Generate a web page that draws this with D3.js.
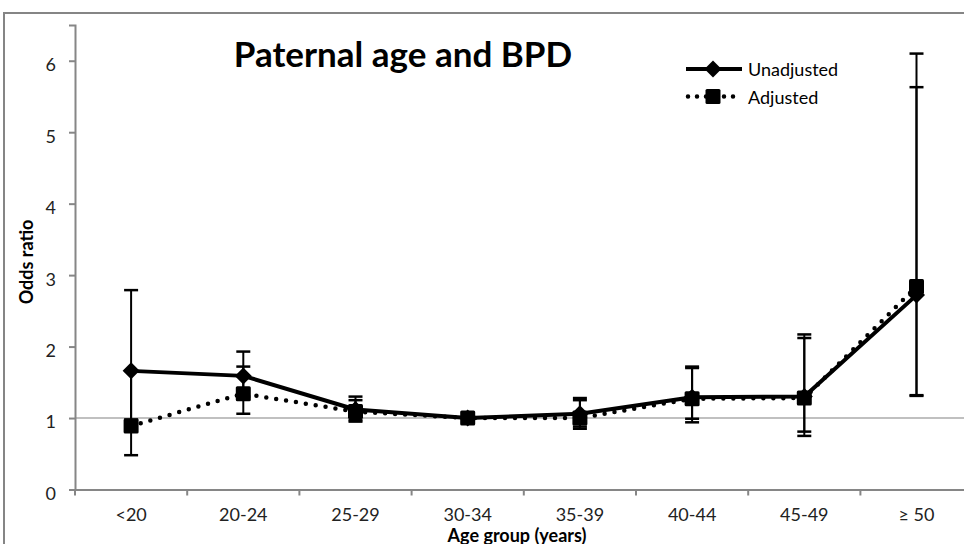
<!DOCTYPE html>
<html>
<head>
<meta charset="utf-8">
<script src="https://cdn.jsdelivr.net/npm/d3@7"></script>
<style>
  body { margin: 0; background: #fff; }
  svg { display: block; font-family: Lato, "Open Sans", sans-serif; }
</style>
</head>
<body>
<svg id="chart"></svg>
<script>
const categories = ["<20", "20-24", "25-29", "30-34", "35-39", "40-44", "45-49", "\u2265 50"];
const unadjusted = [1.66, 1.59, 1.12, 1.00, 1.06, 1.29, 1.30, 2.72];
const unadjLow   = [0.98, 1.30, 0.97, 1.00, 0.88, 0.99, 0.81, 1.31];
const unadjHigh  = [2.79, 1.93, 1.30, 1.00, 1.28, 1.72, 2.17, 5.63];
const adjusted   = [0.89, 1.34, 1.09, 1.00, 1.00, 1.27, 1.28, 2.84];
const adjLow     = [0.48, 1.06, 0.95, 1.00, 0.85, 0.94, 0.75, 1.32];
const adjHigh    = [1.66, 1.72, 1.25, 1.00, 1.25, 1.70, 2.12, 6.10];
const yTicks = [0, 1, 2, 3, 4, 5, 6];

const width = 964, height = 544;
const svg = d3.select("#chart").attr("width", width).attr("height", height);

// outer chart frame (right / bottom edges fall outside the picture)
svg.append("rect")
    .attr("x", 4).attr("y", 13)
    .attr("width", 1000).attr("height", 600)
    .attr("fill", "none").attr("stroke", "#858585").attr("stroke-width", 2);

const x = d3.scaleBand().domain(categories).range([75, 75 + 8 * 112.2]);
const y = d3.scaleLinear().domain([0, 6.5]).range([489.5, 25]);
const cx = i => x(categories[i]) + x.bandwidth() / 2;

// reference line at OR = 1
svg.append("line")
    .attr("x1", 75).attr("x2", width)
    .attr("y1", y(1)).attr("y2", y(1))
    .attr("stroke", "#c0c0c0").attr("stroke-width", 2);

// y axis
const yAxis = svg.append("g")
    .attr("transform", "translate(75,0)")
    .call(d3.axisLeft(y).tickValues(yTicks).tickSize(6).tickPadding(13).tickFormat(d3.format("d")));
yAxis.select(".domain").attr("stroke", "#868686").attr("stroke-width", 2);
yAxis.selectAll(".tick line").attr("stroke", "#868686").attr("stroke-width", 2);
yAxis.selectAll(".tick text")
    .attr("font-size", 18).attr("font-family", "Lato").attr("fill", "#222")
    .attr("dy", "0.55em");

// x axis with ticks between categories
const xAxis = svg.append("g")
    .attr("transform", `translate(0,${y(0)})`)
    .call(d3.axisBottom(x).tickSize(0).tickPadding(19));
xAxis.select(".domain").attr("stroke", "#868686").attr("stroke-width", 2);
xAxis.selectAll(".tick text")
    .attr("font-size", 18).attr("font-family", "Lato").attr("fill", "#222");
xAxis.selectAll(".sep")
    .data(categories)
    .enter().append("line")
    .attr("class", "sep")
    .attr("x1", d => x(d)).attr("x2", d => x(d))
    .attr("y1", 0).attr("y2", 6)
    .attr("stroke", "#868686").attr("stroke-width", 2);

// error bars
function errorBars(low, high) {
    const g = svg.append("g").attr("stroke", "#000").attr("stroke-width", 2);
    categories.forEach((c, i) => {
        if (low[i] === high[i]) return;
        g.append("line").attr("x1", cx(i)).attr("x2", cx(i))
            .attr("y1", y(low[i])).attr("y2", y(high[i]));
        [low[i], high[i]].forEach(v => {
            g.append("line").attr("x1", cx(i) - 7).attr("x2", cx(i) + 7)
                .attr("y1", y(v)).attr("y2", y(v)).attr("stroke-width", 2.5);
        });
    });
}
errorBars(unadjLow, unadjHigh);
errorBars(adjLow, adjHigh);

const line = d3.line().x((d, i) => cx(i)).y(d => y(d));

// unadjusted: solid line, diamonds
svg.append("path").datum(unadjusted)
    .attr("d", line).attr("fill", "none")
    .attr("stroke", "#000").attr("stroke-width", 4).attr("stroke-linejoin", "round");
svg.selectAll(".diamond").data(unadjusted).enter().append("path")
    .attr("class", "diamond")
    .attr("transform", (d, i) => `translate(${cx(i)},${y(d)})`)
    .attr("d", "M0,-8.5L8.5,0L0,8.5L-8.5,0Z").attr("fill", "#000");

// adjusted: dotted line, squares
svg.append("path").datum(adjusted)
    .attr("d", line).attr("fill", "none")
    .attr("stroke", "#000").attr("stroke-width", 4.5)
    .attr("stroke-linecap", "round").attr("stroke-dasharray", "0,10");
svg.selectAll(".square").data(adjusted).enter().append("rect")
    .attr("class", "square")
    .attr("x", (d, i) => cx(i) - 7.5).attr("y", d => y(d) - 7.5)
    .attr("width", 15).attr("height", 15).attr("rx", 1.5).attr("fill", "#000");

// legend
const legend = svg.append("g").attr("transform", "translate(686,0)");
legend.append("line").attr("x1", 0).attr("x2", 56).attr("y1", 69).attr("y2", 69)
    .attr("stroke", "#000").attr("stroke-width", 4);
legend.append("path").attr("transform", "translate(27,69)")
    .attr("d", "M0,-8.5L8.5,0L0,8.5L-8.5,0Z").attr("fill", "#000");
legend.append("text").attr("x", 62).attr("y", 76).attr("font-size", 18).text("Unadjusted");
legend.append("line").attr("x1", 2).attr("x2", 56).attr("y1", 96.5).attr("y2", 96.5)
    .attr("stroke", "#000").attr("stroke-width", 4.5)
    .attr("stroke-linecap", "round").attr("stroke-dasharray", "0,9");
legend.append("rect").attr("x", 19.5).attr("y", 89).attr("width", 15).attr("height", 15)
    .attr("rx", 1.5).attr("fill", "#000");
legend.append("text").attr("x", 62).attr("y", 104).attr("font-size", 18).text("Adjusted");

// titles
svg.append("text").attr("x", 403).attr("y", 67).attr("text-anchor", "middle")
    .attr("font-size", 35).attr("font-weight", "bold").text("Paternal age and BPD");
svg.append("text").attr("x", 517).attr("y", 542).attr("text-anchor", "middle")
    .attr("font-size", 18).attr("font-weight", "bold").text("Age group (years)");
svg.append("text").attr("transform", "translate(33,262) rotate(-90)").attr("text-anchor", "middle")
    .attr("font-size", 18).attr("font-weight", "bold").text("Odds ratio");
</script>
</body>
</html>
